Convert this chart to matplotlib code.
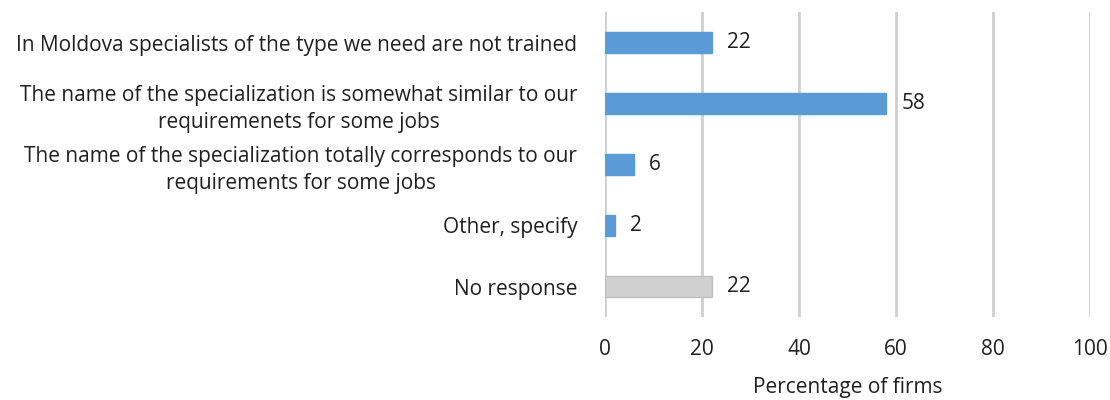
import matplotlib.pyplot as plt

categories = [
    "In Moldova specialists of the type we need are not trained",
    "The name of the specialization is somewhat similar to our\nrequiremenets for some jobs",
    "The name of the specialization totally corresponds to our\nrequirements for some jobs",
    "Other, specify",
    "No response",
]
values = [22, 58, 6, 2, 22]
colors = ["#5B9BD5", "#5B9BD5", "#5B9BD5", "#5B9BD5", "#D0D0D0"]
edges = ["#5B9BD5", "#5B9BD5", "#5B9BD5", "#5B9BD5", "#BFBFBF"]
xticks = [0, 20, 40, 60, 80, 100]

plt.rcParams['font.family'] = ['Open Sans', 'DejaVu Sans']
FS = 15

fig = plt.figure(figsize=(11.1, 4.0), dpi=100)
ax = fig.add_axes([0.545, 0.2075, 0.437, 0.7625])

ypos = list(range(len(categories)))
ax.barh(ypos, values, height=0.35, color=colors, edgecolor=edges, linewidth=1, zorder=3)
for y, v in zip(ypos, values):
    ax.text(v + 3.1, y, str(v), va='center', ha='left', fontsize=FS, color='#202020')

ax.set_xlim(0, 100)
ax.set_ylim(len(categories) - 0.5, -0.5)
ax.set_xticks(xticks)
ax.set_yticks(ypos)
ax.set_yticklabels(categories, fontsize=FS, color='#202020', multialignment='center',
                   linespacing=1.35)
ax.tick_params(axis='x', labelsize=FS, colors='#202020', length=0, pad=16)
ax.tick_params(axis='y', length=0, pad=20)
for s in ax.spines.values():
    s.set_visible(False)
ax.xaxis.grid(True, color='#CFCFCF', linewidth=2.0, zorder=0)
ax.set_axisbelow(True)
ax.set_xlabel("Percentage of firms", fontsize=FS, color='#202020', labelpad=12)

fig.savefig("out.png", dpi=100)
